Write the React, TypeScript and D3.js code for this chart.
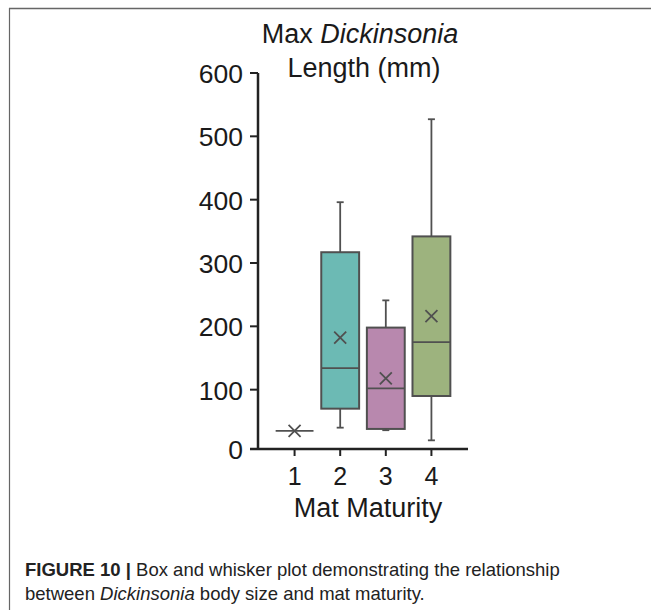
import React from "react";
import * as d3 from "d3";

const categories = ["1", "2", "3", "4"];
const whiskerLow = [35, 40, 36, 20];
const q1 = [35, 70, 38, 90];
const medians = [35, 134, 102, 175];
const q3 = [35, 317, 198, 342];
const whiskerHigh = [35, 396, 241, 527];
const means = [35, 182, 118, 216];
const fills = ["#6cbab4", "#6cbab4", "#b888ae", "#9db37e"];
const yTicks = [0, 100, 200, 300, 400, 500, 600];

export default function App() {
  const W = 651, H = 610;
  const axisX = 258;
  const axisY = 449;
  const y = d3.scaleLinear().domain([0, 600]).range([453, 73]);
  const x = d3.scaleBand().domain(categories).range([272, 454]).paddingInner(0.17).paddingOuter(0.08);
  const bw = x.bandwidth();
  const stroke = "#505050";
  const font = "'Liberation Sans', Arial, Helvetica, sans-serif";
  return (
    <svg width={W} height={H} style={{ position: "absolute", left: 0, top: 0, background: "#fff" }} fontFamily={font}>
      <line x1={9} x2={W} y1={8.5} y2={8.5} stroke="#666" strokeWidth={1.6} />
      <line x1={9.5} x2={9.5} y1={8} y2={H} stroke="#666" strokeWidth={1.2} />

      <text x={360} y={43} textAnchor="middle" fontSize={27} fill="#1a1a1a">
        Max <tspan fontStyle="italic">Dickinsonia</tspan>
      </text>
      <text x={364} y={77} textAnchor="middle" fontSize={27} fill="#1a1a1a">Length (mm)</text>

      {categories.map((c, i) => {
        const cx = (x(c) as number) + bw / 2;
        const x0 = x(c) as number;
        const single = q1[i] === q3[i];
        return (
          <g key={c}>
            {single ? (
              <line x1={x0} x2={x0 + bw} y1={y(medians[i])} y2={y(medians[i])} stroke={stroke} strokeWidth={1.8} />
            ) : (
              <>
                <line x1={cx} x2={cx} y1={y(whiskerHigh[i])} y2={y(q3[i])} stroke={stroke} strokeWidth={1.8} />
                <line x1={cx} x2={cx} y1={y(q1[i])} y2={y(whiskerLow[i])} stroke={stroke} strokeWidth={1.8} />
                <line x1={cx - 3.5} x2={cx + 3.5} y1={y(whiskerHigh[i])} y2={y(whiskerHigh[i])} stroke={stroke} strokeWidth={1.8} />
                <line x1={cx - 3.5} x2={cx + 3.5} y1={y(whiskerLow[i])} y2={y(whiskerLow[i])} stroke={stroke} strokeWidth={1.8} />
                <rect x={x0} y={y(q3[i])} width={bw} height={y(q1[i]) - y(q3[i])} fill={fills[i]} stroke={stroke} strokeWidth={2} />
                <line x1={x0} x2={x0 + bw} y1={y(medians[i])} y2={y(medians[i])} stroke={stroke} strokeWidth={1.8} />
              </>
            )}
            <path
              d={`M${cx - 6},${y(means[i]) - 6}L${cx + 6},${y(means[i]) + 6}M${cx - 6},${y(means[i]) + 6}L${cx + 6},${y(means[i]) - 6}`}
              stroke={stroke}
              strokeWidth={1.8}
              fill="none"
            />
          </g>
        );
      })}

      <line x1={axisX} x2={axisX} y1={y(600)} y2={axisY} stroke="#222" strokeWidth={2.5} />
      <line x1={250} x2={468} y1={axisY} y2={axisY} stroke="#222" strokeWidth={2.5} />
      {yTicks.map((t) => (
        <g key={t}>
          {t > 0 && <line x1={250} x2={axisX} y1={y(t)} y2={y(t)} stroke="#222" strokeWidth={2} />}
          <text x={243} y={(t === 0 ? axisY : y(t)) + 10} textAnchor="end" fontSize={26.5} fill="#1a1a1a">{t}</text>
        </g>
      ))}
      {categories.map((c) => {
        const cx = (x(c) as number) + bw / 2;
        return (
          <g key={c}>
            <line x1={cx} x2={cx} y1={axisY} y2={axisY + 7} stroke="#222" strokeWidth={2} />
            <text x={cx} y={485} textAnchor="middle" fontSize={25} fill="#1a1a1a">{c}</text>
          </g>
        );
      })}
      <text x={368} y={517} textAnchor="middle" fontSize={27} fill="#1a1a1a">Mat Maturity</text>

      <text x={25} y={576} fontSize={18.5} fill="#222">
        <tspan fontWeight="bold">FIGURE 10 |</tspan> Box and whisker plot demonstrating the relationship
      </text>
      <text x={25} y={600} fontSize={18.5} fill="#222">
        between <tspan fontStyle="italic">Dickinsonia</tspan> body size and mat maturity.
      </text>
    </svg>
  );
}
